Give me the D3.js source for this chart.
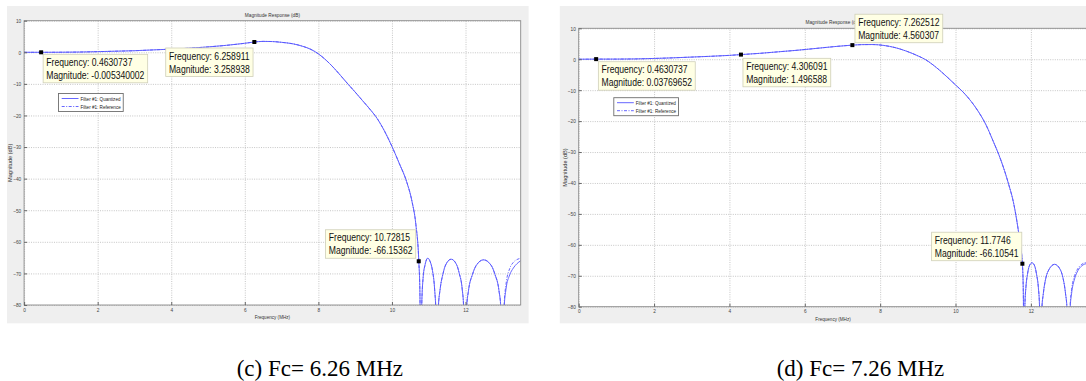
<!DOCTYPE html>
<html><head><meta charset="utf-8">
<script src="https://cdn.jsdelivr.net/npm/d3@7"></script>
<style>
html,body{margin:0;padding:0;background:#fff;}
svg{display:block;}
</style></head>
<body>
<svg id="chart" width="1086" height="381"></svg>
<script>
// ---------------- data ----------------
const xTickValues = [0, 2, 4, 6, 8, 10, 12];
const yTickValues = [10, 0, -10, -20, -30, -40, -50, -60, -70, -80];
const chartTitle = "Magnitude Response (dB)";
const xAxisLabel = "Frequency (MHz)";
const yAxisLabel = "Magnitude (dB)";
const legendLabels = ["Filter #1: Quantized", "Filter #1: Reference"];
const captions = ["(c) Fc= 6.26 MHz", "(d) Fc= 7.26 MHz"];

// (c) Fc = 6.26 MHz
const freqC = [0, 0.46, 1.0, 1.5, 2.0, 2.5, 3.0, 3.5, 4.0, 4.5, 5.0, 5.5, 6.0, 6.26, 6.5, 6.75, 7.0, 7.3, 7.6, 7.8,
  8.0, 8.2, 8.4, 8.6, 8.8, 9.0, 9.2, 9.4, 9.6, 9.8, 10.0, 10.2, 10.4, 10.55, 10.65, 10.73, 10.76, 10.78,
  10.81, 10.85, 10.9, 10.97, 11.04, 11.1, 11.16, 11.2, 11.22,
  11.26, 11.31, 11.39, 11.46, 11.61, 11.76, 11.83, 11.91, 11.95, 11.98,
  12.03, 12.08, 12.19, 12.29, 12.49, 12.70, 12.80, 12.91, 12.96, 13.01,
  13.05, 13.1, 13.2, 13.3, 13.4, 13.5];
const quantC = [0, -0.005, 0.02, 0.08, 0.2, 0.35, 0.5, 0.75, 1.0, 1.3, 1.7, 2.2, 2.85, 3.26, 3.45, 3.4, 3.15, 2.7, 1.8, 0.9,
  -0.5, -2.4, -4.7, -7.3, -10.0, -12.6, -15.3, -18.0, -21.0, -25.0, -29.8, -35.2, -41.0, -47.5, -54.5, -66.15, -76, -100,
  -80, -71, -67.3, -65.2, -66.3, -69, -75, -84, -100,
  -81, -75, -70, -67.3, -65.5, -67.3, -70, -75, -81, -100,
  -81, -75.5, -70.3, -67.5, -65.7, -67.5, -70.3, -75.5, -81, -100,
  -81, -75, -70.5, -68.3, -66.9, -66.0];
const refC = [0, -0.005, 0.02, 0.08, 0.2, 0.35, 0.5, 0.75, 1.0, 1.3, 1.7, 2.2, 2.85, 3.26, 3.45, 3.4, 3.15, 2.7, 1.8, 0.9,
  -0.5, -2.4, -4.7, -7.3, -10.0, -12.6, -15.3, -18.0, -21.0, -25.0, -29.8, -35.2, -41.0, -47.5, -54.5, -66.15, -76, -100,
  -80, -71, -67.3, -65.2, -66.3, -69, -75, -84, -100,
  -81, -75, -70, -67.3, -65.5, -67.3, -70, -75, -81, -100,
  -81, -75.5, -70.3, -67.5, -65.7, -67.5, -70.3, -75.5, -81, -100,
  -80, -73.5, -68.5, -66.5, -65.6, -65.2];
const tipFreqC = [0.4630737, 6.258911, 10.72815];
const tipMagC = [-0.005340002, 3.258938, -66.15362];

// (d) Fc = 7.26 MHz
const freqD = [0, 0.46, 1.0, 1.5, 2.0, 2.5, 3.0, 3.5, 4.0, 4.306, 4.8, 5.3, 5.8, 6.3, 6.8, 7.26, 7.5, 7.8, 8.1, 8.4,
  8.7, 9.0, 9.2, 9.4, 9.6, 9.8, 10.0, 10.2, 10.4, 10.6, 10.8, 11.0, 11.2, 11.4, 11.55, 11.65, 11.72, 11.775, 11.80, 11.82,
  11.84, 11.87, 11.91, 11.96, 12.03, 12.10, 12.15, 12.20, 12.23, 12.25,
  12.29, 12.33, 12.40, 12.48, 12.63, 12.78, 12.85, 12.92, 12.96, 13.0,
  13.04, 13.08, 13.16, 13.25, 13.35, 13.5];
const quantD = [0, 0.038, 0.05, 0.1, 0.25, 0.45, 0.7, 0.95, 1.25, 1.5, 1.9, 2.4, 2.9, 3.5, 4.1, 4.56, 4.72, 4.75, 4.45, 3.75,
  2.6, 1.1, -0.1, -1.8, -3.8, -6.0, -8.3, -10.6, -13.4, -16.8, -21.0, -26.5, -32.5, -40.0, -47.0, -54.0, -60.0, -66.1, -76, -100,
  -80, -73.5, -69.5, -66.8, -65.8, -66.8, -69.5, -74, -80, -100,
  -81, -75.8, -70.6, -68.0, -66.3, -68.0, -70.6, -75.8, -81, -100,
  -81, -75.8, -71.0, -68.3, -66.8, -66.0];
const refD = [0, 0.038, 0.05, 0.1, 0.25, 0.45, 0.7, 0.95, 1.25, 1.5, 1.9, 2.4, 2.9, 3.5, 4.1, 4.56, 4.72, 4.75, 4.45, 3.75,
  2.6, 1.1, -0.1, -1.8, -3.8, -6.0, -8.3, -10.6, -13.4, -16.8, -21.0, -26.5, -32.5, -40.0, -47.0, -54.0, -60.0, -66.1, -76, -100,
  -80, -73.5, -69.5, -66.8, -65.8, -66.8, -69.5, -74, -80, -100,
  -81, -75.8, -70.6, -68.0, -66.3, -68.0, -70.6, -75.8, -81, -100,
  -80, -74.5, -70.0, -67.6, -66.3, -65.6];
const tipFreqD = [0.4630737, 4.306091, 7.262512, 11.7746];
const tipMagD = [0.03769652, 1.496588, 4.560307, -66.10541];

// ---------------- layout / style ----------------
const SX = 0.82;                 // horizontal squeeze of the reference's text
const SANS = "'Liberation Sans', Arial, sans-serif";
const lineColor = "#5656ff";

const panels = [
  { frame: [7, 6, 528.6, 323.3], l: 24.1, r: 520.7, t: 20.7, b: 305,
    legend: [58.5, 93.5], caption: [236.7, 376],
    freq: freqC, quant: quantC, ref: refC, tipF: tipFreqC, tipM: tipMagC,
    place: [{q: "se", gx: 2, gy: 2}, {q: "sw", gx: 1.3, gy: 6}, {q: "nw", gx: 3, gy: 3}] },
  { frame: [559.8, 6, 1100, 323.3], l: 578.7, r: 1087.4, t: 28.3, b: 306.7,
    legend: [613.8, 97.7], caption: [776.7, 376],
    freq: freqD, quant: quantD, ref: refD, tipF: tipFreqD, tipM: tipMagD,
    place: [{q: "se", gx: 2.2, gy: 2.6}, {q: "se", gx: 2, gy: 3.7}, {q: "ne", gx: 2.6, gy: 2.4}, {q: "nw", gx: 0.6, gy: 3}] }
];

const svg = d3.select("#chart");

function sqText(sel, x, y, s) {
  return sel.attr("x", 0).attr("y", 0).attr("transform", `translate(${x},${y}) scale(${s},1)`);
}

panels.forEach((p, pi) => {
  const g = svg.append("g");
  g.append("rect").attr("x", p.frame[0]).attr("y", p.frame[1])
    .attr("width", p.frame[2] - p.frame[0]).attr("height", p.frame[3] - p.frame[1])
    .attr("fill", "#efefef");

  const x = d3.scaleLinear().domain([0, 13.5]).range([p.l, p.r]);
  const y = d3.scaleLinear().domain([-80, 10]).range([p.b, p.t]);
  const W = p.r - p.l, H = p.b - p.t;

  g.append("rect").attr("x", p.l).attr("y", p.t).attr("width", W).attr("height", H).attr("fill", "#fff");

  // grid
  const gx = g.append("g").attr("transform", `translate(0,${p.b})`)
    .call(d3.axisBottom(x).tickValues(xTickValues).tickSize(-H).tickFormat(""));
  gx.select(".domain").remove();
  gx.selectAll("line").attr("stroke", "#b8b8b8").attr("stroke-width", 0.8).attr("stroke-dasharray", "1,1.3");
  const gy = g.append("g").attr("transform", `translate(${p.l},0)`)
    .call(d3.axisLeft(y).tickValues(yTickValues).tickSize(-W).tickFormat(""));
  gy.select(".domain").remove();
  gy.selectAll("line").attr("stroke", "#b8b8b8").attr("stroke-width", 0.8).attr("stroke-dasharray", "1,1.3");

  // curves
  const clipId = "clip" + pi;
  g.append("clipPath").attr("id", clipId).append("rect")
    .attr("x", p.l).attr("y", p.t).attr("width", W).attr("height", H);
  const line = d3.line().x(d => x(d[0])).y(d => y(d[1])).curve(d3.curveMonotoneX);
  const refPts = p.freq.map((f, i) => [f, p.ref[i]]);
  const quantPts = p.freq.map((f, i) => [f, p.quant[i]]);
  g.append("path").attr("clip-path", `url(#${clipId})`).attr("d", line(refPts))
    .attr("fill", "none").attr("stroke", lineColor).attr("stroke-width", 0.9).attr("stroke-dasharray", "3,1.5,1,1.5");
  g.append("path").attr("clip-path", `url(#${clipId})`).attr("d", line(quantPts))
    .attr("fill", "none").attr("stroke", lineColor).attr("stroke-width", 0.9);

  // box
  g.append("rect").attr("x", p.l).attr("y", p.t).attr("width", W).attr("height", H)
    .attr("fill", "none").attr("stroke", "#8a8a8a").attr("stroke-width", 0.9);

  // axes with inward ticks
  const ax = g.append("g").attr("transform", `translate(0,${p.b})`)
    .call(d3.axisBottom(x).tickValues(xTickValues).tickSize(-3).tickPadding(2.5));
  ax.select(".domain").remove();
  ax.selectAll("line").attr("stroke", "#666");
  ax.selectAll("text").attr("font-size", "5.8px").attr("font-family", SANS).attr("fill", "#444")
    .attr("transform", `scale(${SX},1)`);
  const ay = g.append("g").attr("transform", `translate(${p.l},0)`)
    .call(d3.axisLeft(y).tickValues(yTickValues).tickSize(-3).tickPadding(3.5));
  ay.select(".domain").remove();
  ay.selectAll("line").attr("stroke", "#666");
  ay.selectAll("text").attr("font-size", "5.8px").attr("font-family", SANS).attr("fill", "#444")
    .attr("transform", `scale(${SX},1)`);

  // title & labels
  sqText(g.append("text"), (p.l + p.r) / 2, p.t - 4, SX).attr("text-anchor", "middle")
    .attr("font-size", "5.8px").attr("font-family", SANS).attr("fill", "#333").text(chartTitle);
  sqText(g.append("text"), (p.l + p.r) / 2, p.b + 14.3, SX).attr("text-anchor", "middle")
    .attr("font-size", "5.6px").attr("font-family", SANS).attr("fill", "#333").text(xAxisLabel);
  g.append("text").attr("transform", `translate(${p.l - 12},${(p.t + p.b) / 2}) rotate(-90)`)
    .attr("text-anchor", "middle").attr("font-size", "5.6px").attr("font-family", SANS)
    .attr("fill", "#333").text(yAxisLabel);

  // legend
  const lg = g.append("g");
  const lrect = lg.append("rect").attr("fill", "#fff").attr("stroke", "#6e6e6e").attr("stroke-width", 0.9);
  let maxW = 0;
  legendLabels.forEach((lab, i) => {
    const cy = p.legend[1] + 5 + i * 8;
    lg.append("line").attr("x1", p.legend[0] + 3.2).attr("x2", p.legend[0] + 20)
      .attr("y1", cy).attr("y2", cy).attr("stroke", lineColor).attr("stroke-width", 0.9)
      .attr("stroke-dasharray", i === 1 ? "3,1.5,1,1.5" : null);
    const t = sqText(lg.append("text"), p.legend[0] + 22, cy + 2, SX)
      .attr("font-size", "5.6px").attr("font-family", SANS).attr("fill", "#222").text(lab);
    maxW = Math.max(maxW, t.node().getComputedTextLength() * SX);
  });
  lrect.attr("x", p.legend[0]).attr("y", p.legend[1]).attr("width", 22 + maxW + 2.5).attr("height", 18);

  // data tips
  p.tipF.forEach((f, i) => {
    const m = p.tipM[i];
    const mx = x(f), my = y(m);
    const pl = p.place[i];
    const tg = g.append("g");
    const r = tg.append("rect").attr("fill", "#ffffe4").attr("stroke", "#cfcfb8").attr("stroke-width", 0.8);
    const t1 = tg.append("text").attr("font-size", "10.5px").attr("font-family", SANS).attr("fill", "#111")
      .text("Frequency: " + f);
    const t2 = tg.append("text").attr("font-size", "10.5px").attr("font-family", SANS).attr("fill", "#111")
      .text("Magnitude: " + m);
    const tw = Math.max(t1.node().getComputedTextLength(), t2.node().getComputedTextLength()) * SX;
    const bw = tw + 6.4, bh = 28.5;
    const bx = (pl.q === "se" || pl.q === "ne") ? mx + pl.gx : mx - pl.gx - bw;
    const by = (pl.q === "se" || pl.q === "sw") ? my + pl.gy : my - pl.gy - bh;
    r.attr("x", bx).attr("y", by).attr("width", bw).attr("height", bh);
    sqText(t1, bx + 3.2, by + 11.6, SX);
    sqText(t2, bx + 3.2, by + 24.6, SX);
    g.append("rect").attr("x", mx - 2).attr("y", my - 2).attr("width", 4).attr("height", 4).attr("fill", "#000");
  });

  // caption
  svg.append("text").attr("x", p.caption[0]).attr("y", p.caption[1])
    .attr("font-family", "'Liberation Serif', 'Times New Roman', serif").attr("font-size", "23px")
    .attr("fill", "#000").text(captions[pi]);
});
</script>
</body></html>
